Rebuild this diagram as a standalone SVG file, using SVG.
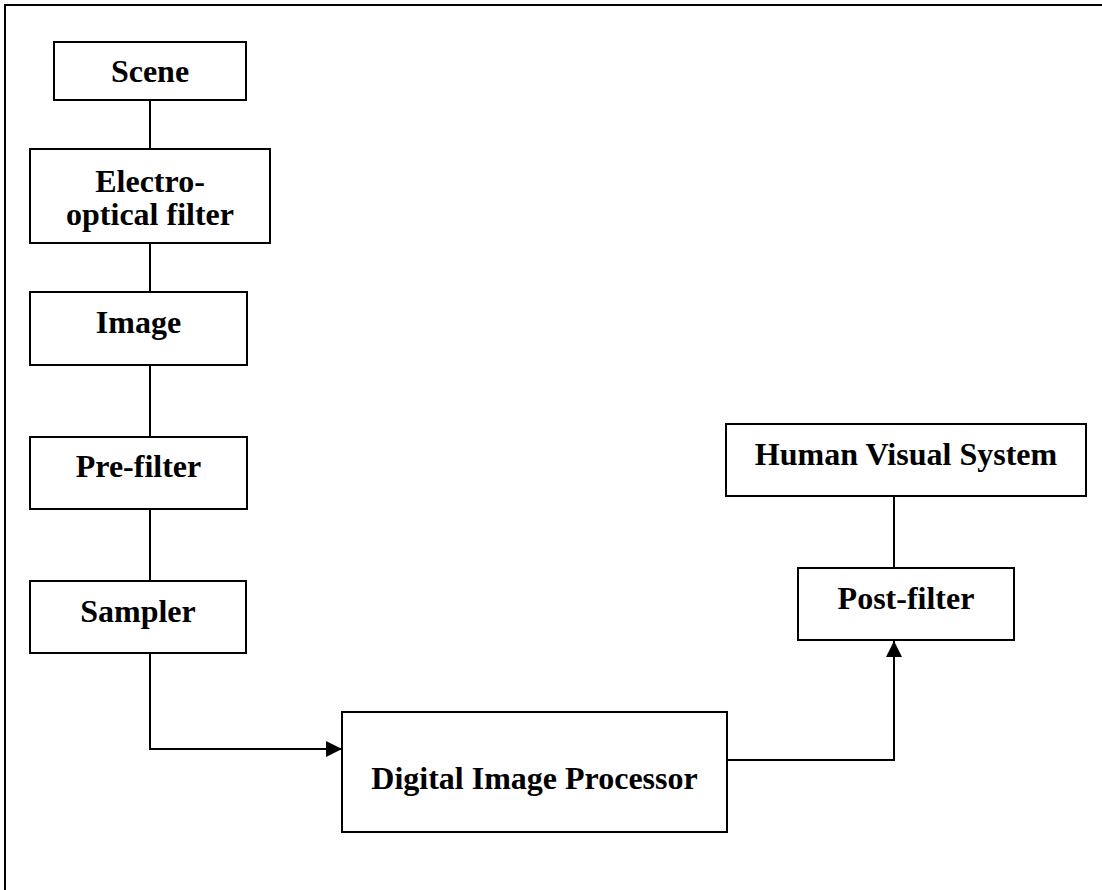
<svg xmlns="http://www.w3.org/2000/svg" width="1102" height="890" viewBox="0 0 1102 890">
  <style>
    .box { fill: #ffffff; stroke: #000000; stroke-width: 2; }
    .lbl { font-family: "Liberation Serif", "Times New Roman", serif; font-weight: bold; font-size: 32px; fill: #000000; text-anchor: middle; }
    .wire { fill: none; stroke: #000000; stroke-width: 2; }
  </style>
  <defs>
    <marker id="arrow" markerUnits="userSpaceOnUse" markerWidth="16" markerHeight="16" refX="16" refY="8" orient="auto">
      <path d="M0,0 L16,8 L0,16 Z" fill="#000000"/>
    </marker>
  </defs>
  <rect x="0" y="0" width="1102" height="890" fill="#ffffff"/>
  <path class="wire" d="M5,890 L5,5 L1102,5"/>

  <g id="connectors">
    <line class="wire" x1="150" y1="100" x2="150" y2="149"/>
    <line class="wire" x1="150" y1="243" x2="150" y2="292"/>
    <line class="wire" x1="150" y1="365" x2="150" y2="437"/>
    <line class="wire" x1="150" y1="509" x2="150" y2="581"/>
    <path class="wire" d="M150,653 L150,749 L342,749" marker-end="url(#arrow)"/>
    <path class="wire" d="M727,760 L894,760 L894,641" marker-end="url(#arrow)"/>
    <line class="wire" x1="894" y1="496" x2="894" y2="568"/>
  </g>

  <g id="scene">
    <rect class="box" x="54" y="42" width="192" height="58"/>
    <text class="lbl" x="150" y="82">Scene</text>
  </g>
  <g id="electro-optical-filter">
    <rect class="box" x="30" y="149" width="240" height="94"/>
    <text class="lbl" x="150" y="192">Electro-</text>
    <text class="lbl" x="150" y="225">optical filter</text>
  </g>
  <g id="image">
    <rect class="box" x="30" y="292" width="217" height="73"/>
    <text class="lbl" x="138.5" y="333">Image</text>
  </g>
  <g id="pre-filter">
    <rect class="box" x="30" y="437" width="217" height="72"/>
    <text class="lbl" x="138.5" y="477">Pre-filter</text>
  </g>
  <g id="sampler">
    <rect class="box" x="30" y="581" width="216" height="72"/>
    <text class="lbl" x="138" y="622">Sampler</text>
  </g>
  <g id="digital-image-processor">
    <rect class="box" x="342" y="712" width="385" height="120"/>
    <text class="lbl" x="534.5" y="789">Digital Image Processor</text>
  </g>
  <g id="human-visual-system">
    <rect class="box" x="726" y="424" width="360" height="72"/>
    <text class="lbl" x="906" y="465">Human Visual System</text>
  </g>
  <g id="post-filter">
    <rect class="box" x="798" y="568" width="216" height="72"/>
    <text class="lbl" x="906" y="609">Post-filter</text>
  </g>
</svg>
